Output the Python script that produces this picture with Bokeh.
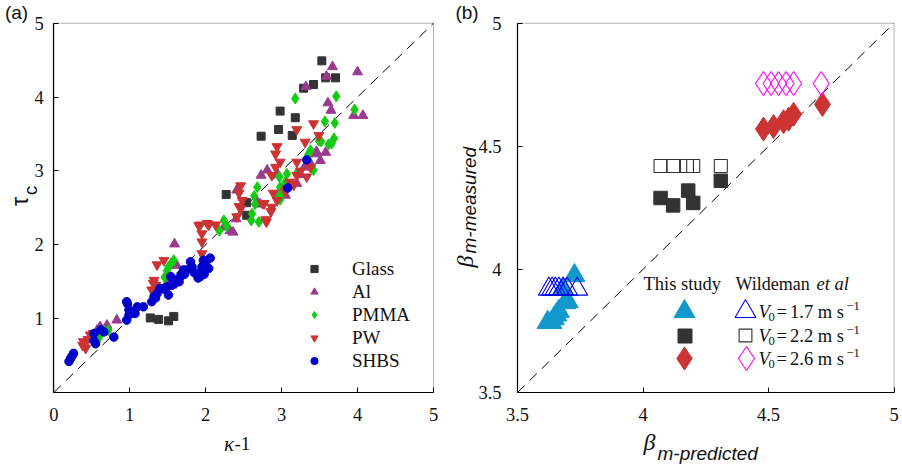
import math
from bokeh.plotting import figure
from bokeh.layouts import row
from bokeh.models import Legend, LegendItem, Label, FixedTicker, BoxAnnotation, Range1d
from bokeh.embed import file_html
from bokeh.resources import INLINE

# ---------------- data: panel (a) ----------------
glass_x = [3.53, 3.58, 3.71, 3.42, 3.29, 2.98, 3.18, 2.96, 2.73, 3.14, 2.27, 2.54, 2.54, 1.27, 1.38, 1.51, 1.58]
glass_y = [4.49, 4.26, 4.26, 4.17, 4.12, 3.81, 3.72, 3.56, 3.47, 3.48, 2.68, 2.57, 2.40, 1.01, 0.99, 0.97, 1.03]

al_x = [3.67, 3.59, 4.00, 3.32, 3.61, 3.65, 3.95, 4.07, 3.51, 3.46, 3.44, 3.20, 2.73, 2.81, 2.68, 2.72,
        2.41, 2.32, 2.24, 2.36, 1.59, 1.49, 1.55, 0.83, 0.61, 0.70, 0.57, 3.00, 3.05, 3.25, 3.30, 3.38,
        2.95, 1.62, 3.58, 2.40]
al_y = [4.41, 4.28, 4.34, 4.14, 3.92, 3.82, 3.75, 3.75, 3.14, 3.26, 3.23, 2.83, 2.94, 3.01, 2.58, 2.55,
        2.74, 2.19, 2.24, 2.17, 2.01, 1.48, 1.45, 0.98, 0.89, 0.91, 0.84, 2.75, 2.67, 2.95, 3.05, 3.10,
        2.95, 1.72, 3.25, 2.35]

pmma_x = [3.18, 3.72, 3.96, 3.70, 3.57, 3.69, 3.62, 3.49, 3.38, 3.42, 3.07, 2.97, 2.98, 2.98, 2.68, 2.64,
          2.61, 2.60, 2.70, 2.24, 2.18, 2.28, 2.94, 3.20, 3.05, 3.35, 3.52, 3.66, 1.58, 1.54, 1.49, 1.46,
          1.51, 0.66, 0.59, 0.72, 0.62, 2.65, 3.00, 3.10]
pmma_y = [3.98, 4.01, 3.83, 3.65, 3.67, 3.44, 3.36, 3.41, 3.28, 3.01, 2.96, 2.92, 2.78, 2.61, 2.78, 2.66,
          2.42, 2.33, 2.31, 2.33, 2.19, 2.25, 2.65, 2.97, 2.85, 3.22, 3.40, 3.37, 1.79, 1.74, 1.65, 1.56,
          1.70, 0.84, 0.73, 0.84, 0.80, 2.55, 2.70, 2.80]

pw_x = [3.42, 3.20, 3.31, 3.49, 2.94, 2.92, 2.98, 3.20, 3.38, 3.33, 2.92, 2.87, 3.20, 3.11, 3.16, 2.46,
        2.44, 2.44, 2.41, 2.77, 2.87, 2.80, 2.86, 2.79, 2.75, 2.89, 3.07, 2.94, 3.05, 3.25, 2.48, 2.46,
        2.04, 1.93, 1.95, 1.95, 1.95, 2.13, 2.02, 1.91, 1.45, 1.36, 1.32, 1.34, 1.29, 1.31, 0.48, 0.39,
        0.42, 0.45, 0.52, 0.38]
pw_y = [3.64, 3.56, 3.39, 3.48, 3.33, 3.23, 3.12, 3.12, 3.05, 2.92, 3.05, 2.94, 2.94, 2.85, 2.81, 2.80,
        2.70, 2.52, 2.38, 2.56, 2.51, 2.31, 2.45, 2.34, 2.56, 2.70, 2.76, 2.60, 2.72, 3.00, 2.60, 2.49,
        2.27, 2.27, 2.15, 2.04, 1.88, 2.27, 2.29, 2.26, 1.79, 1.73, 1.52, 1.45, 1.39, 1.48, 0.78, 0.69,
        0.60, 0.72, 0.80, 0.64]

shbs_x = [3.33, 3.08, 2.06, 2.04, 1.97, 1.95, 1.93, 1.89, 1.82, 1.80, 1.75, 1.71, 1.69, 1.67, 1.62, 1.58,
          1.54, 1.49, 1.51, 1.40, 1.36, 1.32, 1.29, 1.18, 1.10, 1.05, 0.99, 0.96, 0.96, 0.97, 0.99, 1.07,
          0.79, 0.66, 0.53, 0.55, 0.53, 0.62, 0.26, 0.22, 0.20, 0.24, 1.60, 1.65, 1.85, 1.98, 1.90, 1.72,
          1.55, 1.45, 1.34, 2.00]
shbs_y = [3.15, 2.77, 1.82, 1.68, 1.79, 1.70, 1.57, 1.61, 1.70, 1.77, 1.66, 1.66, 1.61, 1.57, 1.52, 1.52,
          1.57, 1.43, 1.32, 1.41, 1.34, 1.30, 1.23, 1.16, 1.16, 1.09, 1.12, 1.23, 0.98, 1.20, 1.05, 1.07,
          0.75, 0.82, 0.80, 0.66, 0.70, 0.85, 0.53, 0.46, 0.42, 0.49, 1.48, 1.50, 1.62, 1.60, 1.55, 1.60,
          1.45, 1.40, 1.28, 1.75]

left_xticks = [0, 1, 2, 3, 4, 5]
left_yticks = [1, 2, 3, 4, 5]
left_bounds = (0, 5)

# ---------------- data: panel (b) ----------------
study_tri_x = [3.620, 3.635, 3.645, 3.655, 3.665, 3.690, 3.700, 3.680, 3.727]
study_tri_y = [3.785, 3.785, 3.800, 3.815, 3.830, 3.865, 3.870, 3.920, 3.975]
study_sq_x = [4.07, 4.12, 4.18, 4.20, 4.31]
study_sq_y = [4.29, 4.26, 4.32, 4.27, 4.36]
study_dia_x = [4.48, 4.52, 4.56, 4.58, 4.60, 4.715]
study_dia_y = [4.57, 4.58, 4.60, 4.61, 4.63, 4.67]

wild_tri_x = [3.625, 3.638, 3.651, 3.665, 3.682, 3.698, 3.738]
wild_tri_y = [3.92, 3.92, 3.92, 3.92, 3.92, 3.92, 3.92]
wild_sq_x = [4.07, 4.12, 4.175, 4.20, 4.31]
wild_sq_y = [4.42, 4.42, 4.42, 4.42, 4.42]
wild_dia_x = [4.48, 4.51, 4.54, 4.57, 4.60, 4.71]
wild_dia_y = [4.755, 4.755, 4.755, 4.755, 4.755, 4.755]

right_ticks = [3.5, 4, 4.5, 5]
right_tick_labels = ["3.5", "4", "4.5", "5"]
right_bounds = (3.5, 5)
wild_labels = ["=\u20061.7 m s", "=\u20062.2 m s", "=\u20062.6 m s"]

# ---------------- layout constants (page pixels) ----------------
H = 468
W1, W2 = 452, 450
BOX_TOP, BOX_BOTTOM = 22.7, 392.0
BOX1_L, BOX1_R = 53.3, 433.0
BOX2_L, BOX2_R = 517.0, 893.5

SERIF = "Liberation Serif"
SANS = "Liberation Sans"
TXT = "#111111"

C_GLASS = "#333333"
C_AL = "#9A3A8E"
C_PMMA = "#11CC11"
C_PW = "#CC3333"
C_SHBS = "#0000CC"
C_CYAN = "#1199CC"
C_BLUE = "#0000EE"
C_MAG = "#FF00FF"


def ranges_for(bounds, canvas_left, width, box_l, box_r):
    lo, hi = bounds
    kx = (box_r - box_l) / (hi - lo)
    x0 = lo - (box_l - canvas_left) / kx
    ky = (BOX_BOTTOM - BOX_TOP) / (hi - lo)
    y0 = lo - (H - BOX_BOTTOM) / ky
    return Range1d(x0, x0 + width / kx), Range1d(y0, y0 + H / ky)


def make_fig(bounds, xt, yt, canvas_left, width, box_l, box_r, overrides=None, ystand=10):
    xr, yr = ranges_for(bounds, canvas_left, width, box_l, box_r)
    p = figure(width=width, height=H, x_range=xr, y_range=yr, output_backend="svg",
               toolbar_location=None, min_border=0)
    p.min_border_left = p.min_border_right = p.min_border_top = p.min_border_bottom = 0
    p.outline_line_color = None
    p.xgrid.visible = False
    p.ygrid.visible = False
    p.background_fill_color = "white"
    p.border_fill_color = "white"
    p.xaxis.ticker = FixedTicker(ticks=xt)
    p.yaxis.ticker = FixedTicker(ticks=yt)
    p.xaxis.fixed_location = bounds[0]
    p.yaxis.fixed_location = bounds[0]
    for ax in (p.xaxis[0], p.yaxis[0]):
        ax.bounds = bounds
        ax.major_tick_in = 5
        ax.major_tick_out = 0
        ax.minor_tick_line_color = None
        ax.axis_line_color = "#000000"
        ax.axis_line_width = 1.2
        ax.major_tick_line_color = "#000000"
        ax.major_label_text_font = SERIF
        ax.major_label_text_font_size = "18.5px"
        ax.major_label_text_color = TXT
        if overrides:
            ax.major_label_overrides = overrides
    p.xaxis.major_label_standoff = 15
    p.yaxis.major_label_standoff = ystand
    p.add_layout(BoxAnnotation(left=bounds[0], right=bounds[1], bottom=bounds[0], top=bounds[1],
                               fill_color=None, fill_alpha=0, line_color="#000000", line_width=1,
                               level="overlay"))
    # y = x reference line
    p.line(list(bounds), list(bounds), line_color="black", line_width=1, line_dash="10 7")
    return p


def lab(p, left, X, Y, text, font=SERIF, size="19px", style="normal", align="left",
        baseline="middle", angle=0.0, color=TXT):
    p.add_layout(Label(x=X - left, y=H - Y, x_units="screen", y_units="screen", text=text,
                       text_font=font, text_font_size=size, text_font_style=style,
                       text_align=align, text_baseline=baseline, angle=angle,
                       text_color=color))


# ---------------- panel (a) ----------------
p1 = make_fig(left_bounds, left_xticks, left_yticks, 0, W1, BOX1_L, BOX1_R)

r_glass = p1.scatter(glass_x, glass_y, marker="square", size=8, fill_color=C_GLASS, line_color=C_GLASS)
r_al = p1.scatter(al_x, al_y, marker="triangle", size=10, fill_color=C_AL, line_color=C_AL)
r_pmma = p1.scatter(pmma_x, pmma_y, marker="diamond", size=11, fill_color=C_PMMA, line_color=C_PMMA)
r_pw = p1.scatter(pw_x, pw_y, marker="inverted_triangle", size=10, fill_color=C_PW, line_color=C_PW)
r_shbs = p1.scatter(shbs_x, shbs_y, marker="circle", size=8.5, fill_color=C_SHBS, line_color=C_SHBS)

leg1 = Legend(items=[LegendItem(label="Glass", renderers=[r_glass]),
                     LegendItem(label="Al", renderers=[r_al]),
                     LegendItem(label="PMMA", renderers=[r_pmma]),
                     LegendItem(label="PW", renderers=[r_pw]),
                     LegendItem(label="SHBS", renderers=[r_shbs])],
              location=(305, H - 372), padding=0, margin=0, spacing=0,
              glyph_width=18, glyph_height=23, label_height=23, label_standoff=29,
              border_line_color=None, background_fill_alpha=0,
              label_text_font=SERIF, label_text_font_size="19px", label_text_color=TXT)
p1.add_layout(leg1)

lab(p1, 0, 19, 201, "\u03c4", font=SANS, size="23px", align="center", angle=math.pi / 2)
lab(p1, 0, 30, 190, "c", font=SANS, size="19px", align="center", angle=math.pi / 2)
lab(p1, 0, 233.5, 443.5, "\u03ba", font=SERIF, size="21px", style="italic", align="right")
lab(p1, 0, 234, 443, "-1", font=SERIF, size="19px", align="left")
lab(p1, 0, 16, 11.5, "(a)", font=SANS, size="19px", align="center")

# ---------------- panel (b) ----------------
ov = {t: s for t, s in zip(right_ticks, right_tick_labels)}
p2 = make_fig(right_bounds, right_ticks, right_ticks, W1, W2, BOX2_L, BOX2_R, overrides=ov, ystand=16)

r_st = p2.scatter(study_tri_x, study_tri_y, marker="triangle", size=21, fill_color=C_CYAN, line_color=C_CYAN)
r_ss = p2.scatter(study_sq_x, study_sq_y, marker="square", size=13.5, fill_color=C_GLASS, line_color=C_GLASS)
r_sd = p2.scatter(study_dia_x, study_dia_y, marker="diamond", size=24, fill_color=C_PW, line_color=C_PW)
r_wt = p2.scatter(wild_tri_x, wild_tri_y, marker="triangle", size=21, fill_color=None, line_color=C_BLUE, line_width=1.1)
r_ws = p2.scatter(wild_sq_x, wild_sq_y, marker="square", size=13, fill_color=None, line_color=C_GLASS, line_width=1.1)
r_wd = p2.scatter(wild_dia_x, wild_dia_y, marker="diamond", size=24, fill_color=None, line_color=C_MAG, line_width=1.1)


def single_legend(p, r, cx, cy, size):
    box = size / 0.4
    leg = Legend(items=[LegendItem(label=" ", renderers=[r])],
                 location=(cx - W1 - box / 2, H - cy - box / 2), padding=0, margin=0, spacing=0,
                 glyph_width=int(round(box)), glyph_height=int(round(box)), label_standoff=0,
                 border_line_color=None, background_fill_alpha=0,
                 label_text_font=SERIF, label_text_font_size="10px")
    p.add_layout(leg)


rows_y = [311, 335, 358]
single_legend(p2, r_st, 684, rows_y[0], 21)
single_legend(p2, r_ss, 684, rows_y[1], 14)
single_legend(p2, r_sd, 684, rows_y[2], 23)
single_legend(p2, r_wt, 745, rows_y[0], 21)
single_legend(p2, r_ws, 745, rows_y[1], 13)
single_legend(p2, r_wd, 746, rows_y[2], 24)

lab(p2, W1, 643, 283, "This study", size="18.5px")
lab(p2, W1, 735, 283, "Wildeman", size="18px")
lab(p2, W1, 816, 283, "et al", size="18.5px", style="italic")
for yy, txt in zip(rows_y, wild_labels):
    lab(p2, W1, 758, yy, "V", size="18.5px", style="italic")
    lab(p2, W1, 768, yy + 5, "0", size="12.5px")
    lab(p2, W1, 776, yy, txt, size="18.5px")
    lab(p2, W1, 846, yy - 6, "\u22121", size="12.5px")

lab(p2, W1, 464, 261, "\u03b2", font=SERIF, size="24px", style="italic", align="center", angle=math.pi / 2)
lab(p2, W1, 469, 253, "m-measured", font=SANS, size="19px", style="italic", align="left", angle=math.pi / 2)
lab(p2, W1, 649, 441, "\u03b2", font=SERIF, size="24px", style="italic", align="center")
lab(p2, W1, 657, 453, "m-predicted", font=SANS, size="19px", style="italic", align="left")
lab(p2, W1, 466.5, 11.5, "(b)", font=SANS, size="19px", align="center")

layout = row(p1, p2)
open("out.html", "w").write(file_html(layout, INLINE))
